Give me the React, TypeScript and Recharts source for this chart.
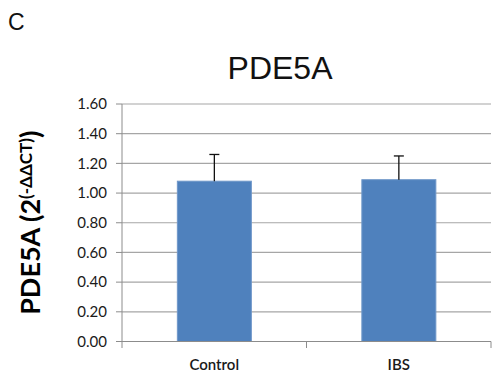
import { BarChart, Bar, XAxis, YAxis, CartesianGrid } from 'recharts';

const groups = ['Control', 'IBS'];
const means = [1.08, 1.09];
const errors = [0.18, 0.16];
const yTicks = [0, 0.2, 0.4, 0.6, 0.8, 1.0, 1.2, 1.4, 1.6];

const data = groups.map((g, i) => ({ name: g, value: means[i], err: errors[i] }));

const COLORS = {
  bar: '#4F81BD',
  grid: '#a6a6a6',
  axis: '#8c8c8c',
  text: '#1a1a1a',
};

const FONT = 'Lato, "Open Sans", sans-serif';

// bar plus a one-sided (upward) error whisker
const BarWithError = (props: any) => {
  const { x, y, width, height, payload } = props;
  if (!height) return null;
  const errPx = (payload.err * height) / payload.value;
  const cx = x + width / 2;
  return (
    <g>
      <rect x={x} y={y} width={width} height={height} fill={COLORS.bar} stroke="#6f97c9" strokeWidth={1} />
      <line x1={cx} y1={y} x2={cx} y2={y - errPx} stroke="#111" strokeWidth={1.3} />
      <line x1={cx - 5} y1={y - errPx} x2={cx + 5} y2={y - errPx} stroke="#111" strokeWidth={1.3} />
    </g>
  );
};

// category label, with the tick marks drawn at the band edges
const CategoryTick = (props: any) => {
  const { x, y, payload, index, width, visibleTicksCount } = props;
  const count = visibleTicksCount || groups.length;
  const half = width ? width / count / 2 : 0;
  return (
    <g>
      {half > 0 && <line x1={x - half} y1={y - 8} x2={x - half} y2={y - 1.5} stroke={COLORS.axis} />}
      {half > 0 && index === count - 1 && (
        <line x1={x + half} y1={y - 8} x2={x + half} y2={y - 1.5} stroke={COLORS.axis} />
      )}
      <text x={x} y={y + 20} textAnchor="middle" fill={COLORS.text} fontSize={15} fontWeight={600} fontFamily={FONT}>
        {payload.value}
      </text>
    </g>
  );
};

const YLabel = (props: any) => {
  const { viewBox } = props;
  const cx = viewBox.x + 40;
  const cy = viewBox.y + viewBox.height / 2;
  return (
    <text
      x={cx}
      y={cy}
      transform={`rotate(-90, ${cx}, ${cy})`}
      textAnchor="middle"
      fill="#000"
      fontFamily={FONT}
      fontWeight={700}
      fontSize={27}
    >
      PDE5A (2
      <tspan fontSize={17} dy={-8}>(-ΔΔCT)</tspan>
      <tspan dy={8}>)</tspan>
    </text>
  );
};

export default function App() {
  return (
    <div style={{ position: 'absolute', left: 0, top: 0, width: 493, height: 374, background: '#fff' }}>
      <svg width={493} height={374} style={{ position: 'absolute', left: 0, top: 0, pointerEvents: 'none' }}>
        <text x={8} y={30} fontFamily='"Liberation Sans Narrow", "Liberation Sans", sans-serif' fontSize={23} fill="#111">
          C
        </text>
        <text x={280} y={79} textAnchor="middle" fontFamily='"Liberation Sans", Arial, sans-serif' fontSize={32} fill="#111">
          PDE5A
        </text>
      </svg>
      <BarChart
        width={493}
        height={374}
        data={data}
        margin={{ top: 104, right: 2, bottom: 0, left: 0 }}
        barCategoryGap="30%"
        style={{ position: 'absolute', left: 0, top: 0 }}
      >
        <CartesianGrid vertical={false} stroke={COLORS.grid} strokeWidth={1.2} />
        <XAxis
          dataKey="name"
          height={32.5}
          axisLine={{ stroke: COLORS.axis }}
          tickLine={false}
          tick={<CategoryTick />}
          interval={0}
        />
        <YAxis
          width={122}
          domain={[0, 1.6]}
          ticks={yTicks}
          interval={0}
          tickFormatter={(v: number) => v.toFixed(2)}
          axisLine={{ stroke: COLORS.axis }}
          tickLine={{ stroke: COLORS.axis }}
          tickSize={6}
          tickMargin={9}
          tick={{ fill: COLORS.text, fontSize: 15, fontFamily: FONT }}
          label={{ content: <YLabel /> }}
        />
        <Bar dataKey="value" shape={<BarWithError />} isAnimationActive={false} />
      </BarChart>
    </div>
  );
}
